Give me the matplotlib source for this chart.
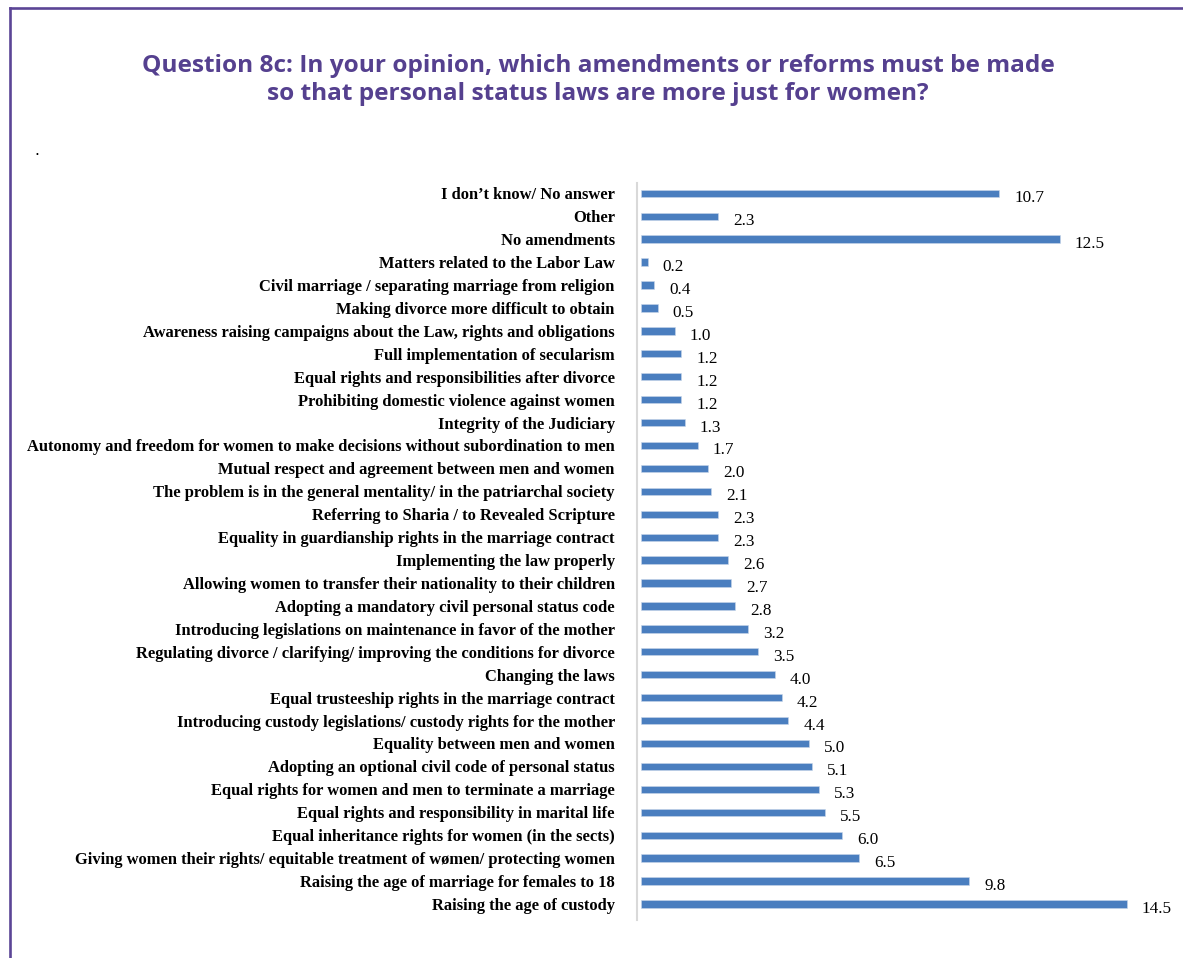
import matplotlib.pyplot as plt
from matplotlib.lines import Line2D

# answers, listed top to bottom as they appear on the chart
answers = [
    "I don\u2019t know/ No answer",
    "Other",
    "No amendments",
    "Matters related to the Labor Law",
    "Civil marriage / separating marriage from religion",
    "Making divorce more difficult to obtain",
    "Awareness raising campaigns about the Law, rights and obligations",
    "Full implementation of secularism",
    "Equal rights and responsibilities after divorce",
    "Prohibiting domestic violence against women",
    "Integrity of the Judiciary",
    "Autonomy and freedom for women to make decisions without subordination to men",
    "Mutual respect and agreement between men and women",
    "The problem is in the general mentality/ in the patriarchal society",
    "Referring to Sharia / to Revealed Scripture",
    "Equality in guardianship rights in the marriage contract",
    "Implementing the law properly",
    "Allowing women to transfer their nationality to their children",
    "Adopting a mandatory civil personal status code",
    "Introducing legislations on maintenance in favor of the mother",
    "Regulating divorce / clarifying/ improving the conditions for divorce",
    "Changing the laws",
    "Equal trusteeship rights in the marriage contract",
    "Introducing custody legislations/ custody rights for the mother",
    "Equality between men and women",
    "Adopting an optional civil code of personal status",
    "Equal rights for women and men to terminate a marriage",
    "Equal rights and responsibility in marital life",
    "Equal inheritance rights for women (in the sects)",
    "Giving women their rights/ equitable treatment of w\u00f8men/ protecting women",
    "Raising the age of marriage for females to 18",
    "Raising the age of custody",
]
percent = [10.7, 2.3, 12.5, 0.2, 0.4, 0.5, 1.0, 1.2, 1.2, 1.2, 1.3, 1.7, 2.0, 2.1,
           2.3, 2.3, 2.6, 2.7, 2.8, 3.2, 3.5, 4.0, 4.2, 4.4, 5.0, 5.1, 5.3, 5.5,
           6.0, 6.5, 9.8, 14.5]

W, H = 1183, 958
fig = plt.figure(figsize=(W / 100, H / 100), dpi=100)

purple = "#55408f"
# page frame (left and top edges)
fig.add_artist(Line2D([10 / W, 10 / W], [0, 1 - 8 / H], color="#5b4596", lw=1.9))
fig.add_artist(Line2D([10 / W, 1], [1 - 8 / H, 1 - 8 / H], color="#5b4596", lw=1.9))

fig.text(598 / W, 1 - 80 / H,
         "Question 8c: In your opinion, which amendments or reforms must be made\n"
         "so that personal status laws are more just for women?",
         ha="center", va="center", fontsize=17.6, fontweight="bold",
         family="Open Sans", color=purple, linespacing=1.26)
fig.text(34 / W, 1 - 155 / H, ".", fontsize=11, color="black")

ax = fig.add_axes([637 / W, 38 / H, 536 / W, 737 / H])
ypos = list(range(len(answers)))
ax.barh(ypos, percent, left=0.12, height=0.32, color="#4a7ebf",
        edgecolor="#c9d7ea", linewidth=0.4)
ax.set_xlim(0, 16)
ax.set_ylim(31.7, -0.45)

ax.set_yticks(ypos)
ax.set_yticklabels(answers, family="Liberation Serif", fontweight="bold", fontsize=11.9)
ax.tick_params(axis="y", length=0, pad=16)
ax.set_xticks([])

for s in ["top", "right", "bottom"]:
    ax.spines[s].set_visible(False)
ax.spines["left"].set_color("#d9d9d9")
ax.spines["left"].set_linewidth(1.5)

for y, v in zip(ypos, percent):
    ax.annotate(f"{v:.1f}", (v + 0.12, y), xytext=(15, -5), textcoords="offset pixels",
                ha="left", va="center", family="Liberation Serif", fontsize=12.3)

fig.savefig("out.png", dpi=100)
